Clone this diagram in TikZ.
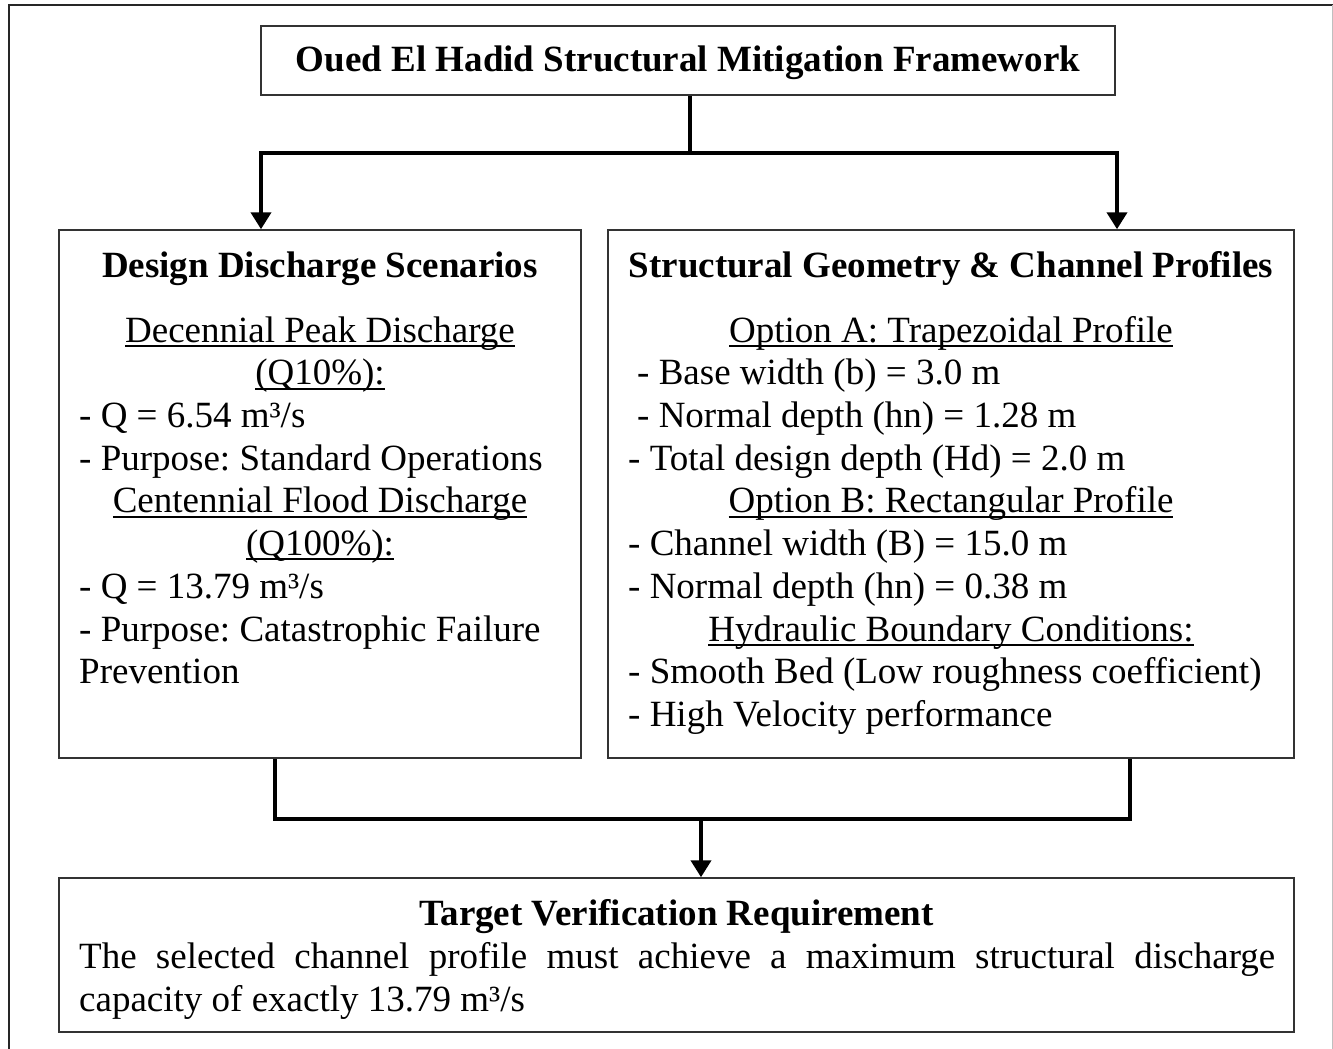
\documentclass[tikz,border=0pt]{standalone}
\usepackage{fontspec}
\setmainfont{Liberation Serif}
\usetikzlibrary{arrows.meta}
\newlength\ulw
\newcommand\myul[1]{\settowidth\ulw{#1}\rlap{\rule[-5pt]{\ulw}{1.8pt}}#1}
\frenchspacing
\begin{document}
\begin{tikzpicture}[x=1pt,y=-1pt,
  box/.style={draw=black!80, line width=1.5pt, inner sep=0, fill=none},
  conn/.style={line width=4pt, line join=miter, draw=black},
  tip/.style={-{Triangle[width=20pt,length=17pt]}},
  both/.style={{Triangle[width=20pt,length=17pt]}-{Triangle[width=20pt,length=17pt]}},
  txt/.style={inner sep=0, font=\fontsize{37}{43}\selectfont},
  lft/.style={txt, anchor=base west},
  ctr/.style={txt, anchor=base}]
\useasboundingbox (0,0) rectangle (1333,1049);
% outer frame
\draw[line width=2pt, black!85] (9,1049) -- (9,5) -- (1333,5);
\draw[line width=1pt, black!25] (1332,5) -- (1332,1049);
% boxes
\node[box, minimum width=854, minimum height=69] (title) at (688,60.5) {};
\node[box, minimum width=522, minimum height=528] (left) at (320,494) {};
\node[box, minimum width=686, minimum height=528] (right) at (951,494) {};
\node[box, minimum width=1235, minimum height=154] (bottom) at (676.5,955) {};
% title text
\node[ctr, font=\fontsize{37}{43}\selectfont\bfseries] (ttl) at (688,72) {Oued El Hadid Structural Mitigation Framework};
% left text
\node[ctr, font=\fontsize{37}{43}\selectfont\bfseries] (lh) at (320,277) {Design Discharge Scenarios};
\node[ctr] (l1) at (320,342) {\myul{Decennial Peak Discharge}};
\node[ctr] (l2) at (320,384.5) {\myul{(Q10\%):}};
\node[lft] (l3) at (79,427) {- Q = 6.54 m³/s};
\node[lft] (l4) at (79,470) {- Purpose: Standard Operations};
\node[ctr] (l5) at (320,512.5) {\myul{Centennial Flood Discharge}};
\node[ctr] (l6) at (320,555) {\myul{(Q100\%):}};
\node[lft] (l7) at (79,598) {- Q = 13.79 m³/s};
\node[lft] (l8) at (79,641) {- Purpose: Catastrophic Failure};
\node[lft] (l9) at (79,683.5) {Prevention};
% right text
\node[ctr, font=\fontsize{37}{43}\selectfont\bfseries] (rh) at (951,277) {Structural Geometry \& Channel Profiles};
\node[ctr] (r1) at (951,342) {\myul{Option A: Trapezoidal Profile}};
\node[lft] (r2) at (637,384.5) {- Base width (b) = 3.0 m};
\node[lft] (r3) at (637,427) {- Normal depth (hn) = 1.28 m};
\node[lft] (r4) at (628,470) {- Total design depth (Hd) = 2.0 m};
\node[ctr] (r5) at (951,512.5) {\myul{Option B: Rectangular Profile}};
\node[lft] (r6) at (628,555) {- Channel width (B) = 15.0 m};
\node[lft] (r7) at (628,598) {- Normal depth (hn) = 0.38 m};
\node[ctr] (r8) at (951,641) {\myul{Hydraulic Boundary Conditions:}};
\node[lft] (r9) at (628,683.5) {- Smooth Bed (Low roughness coefficient)};
\node[lft] (r10) at (628,726) {- High Velocity performance};
% bottom text
\node[ctr, font=\fontsize{37}{43}\selectfont\bfseries] (bh) at (676.5,925) {Target Verification Requirement};
\node[lft] (b1) at (79,968) {\makebox[1196pt][s]{The selected channel profile must achieve a maximum structural discharge}};
\node[lft] (b2) at (79,1011) {capacity of exactly 13.79 m³/s};
% connectors
\coordinate (tl) at (261,153);
\coordinate (tr) at (1117,153);
\draw[conn] (title.south -| 690,0) -- (690,153);
\draw[conn, both] (tl |- left.north) -- (tl) -- (tr) -- (tr |- right.north);
\coordinate (bl) at (275,819);
\coordinate (br) at (1130,819);
\coordinate (bm) at (701,819);
\draw[conn] (bl |- left.south) -- (bl) -- (br) -- (br |- right.south);
\draw[conn, tip] (bm) -- (bm |- bottom.north);
\end{tikzpicture}
\end{document}
